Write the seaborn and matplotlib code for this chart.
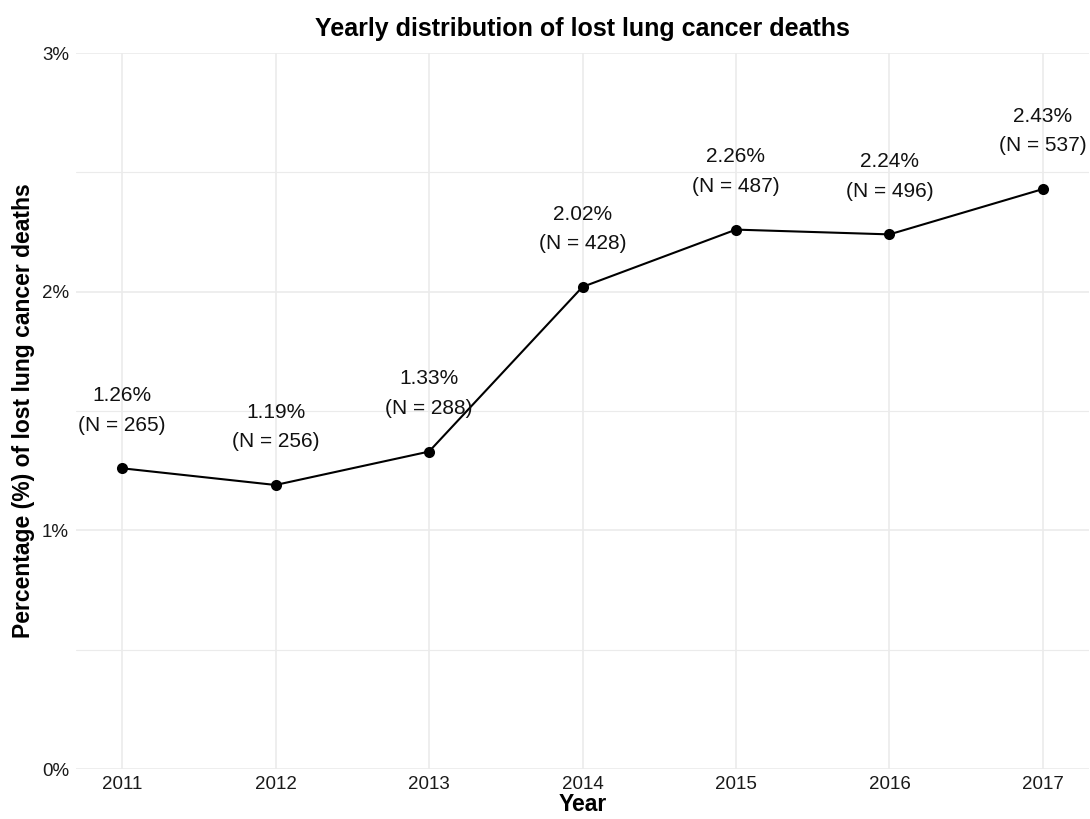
import pandas as pd
import seaborn as sns
import matplotlib.pyplot as plt
from matplotlib.ticker import FixedLocator, FuncFormatter

# --- data ---
years = [2011, 2012, 2013, 2014, 2015, 2016, 2017]
pct = [1.26, 1.19, 1.33, 2.02, 2.26, 2.24, 2.43]
counts = [265, 256, 288, 428, 487, 496, 537]

df = pd.DataFrame({"year": years, "pct": pct, "n": counts})

sns.set_style("white")
plt.rcParams["font.family"] = ["Liberation Sans", "DejaVu Sans"]
plt.rcParams["text.color"] = "black"
plt.rcParams["axes.labelcolor"] = "black"

fig = plt.figure(figsize=(10.9, 8.19), dpi=100)
ax = fig.add_axes([76 / 1090, 50 / 819, 1013 / 1090, 716 / 819])

sns.lineplot(data=df, x="year", y="pct", color="black", linewidth=1.5,
             marker="o", markersize=8, markeredgewidth=0, ax=ax, zorder=3)

# two-line label above each point
for y, p, n in zip(years, pct, counts):
    ax.annotate(f"{p:.2f}%\n(N = {n})", (y, p),
                xytext=(0, 58), textcoords="offset pixels",
                ha="center", va="center", fontsize=15, linespacing=1.7,
                color="#111111", zorder=4)

ax.set_xlim(years[0] - 0.3, years[-1] + 0.3)
ax.set_ylim(0, 3)
ax.set_xticks(years)
ax.yaxis.set_major_locator(FixedLocator([0, 1, 2, 3]))
ax.yaxis.set_minor_locator(FixedLocator([0.5, 1.5, 2.5]))
ax.yaxis.set_major_formatter(FuncFormatter(lambda v, p: f"{v:.0f}%"))

ax.grid(True, which="major", color="#EBEBEB", linewidth=1.2)
ax.grid(True, which="minor", axis="y", color="#EBEBEB", linewidth=0.8)
ax.set_axisbelow(True)
for s in ax.spines.values():
    s.set_visible(False)
ax.tick_params(axis="both", which="both", length=0, labelsize=13.5,
               colors="#1a1a1a", pad=5)

ax.set_xlabel("Year", fontsize=16.5, fontweight="bold", labelpad=0)
ax.set_ylabel("Percentage (%) of lost lung cancer deaths", fontsize=16.5,
              fontweight="bold", labelpad=5)
ax.set_title("Yearly distribution of lost lung cancer deaths", fontsize=18,
             fontweight="bold", pad=12)

fig.savefig("out.png", dpi=100)
